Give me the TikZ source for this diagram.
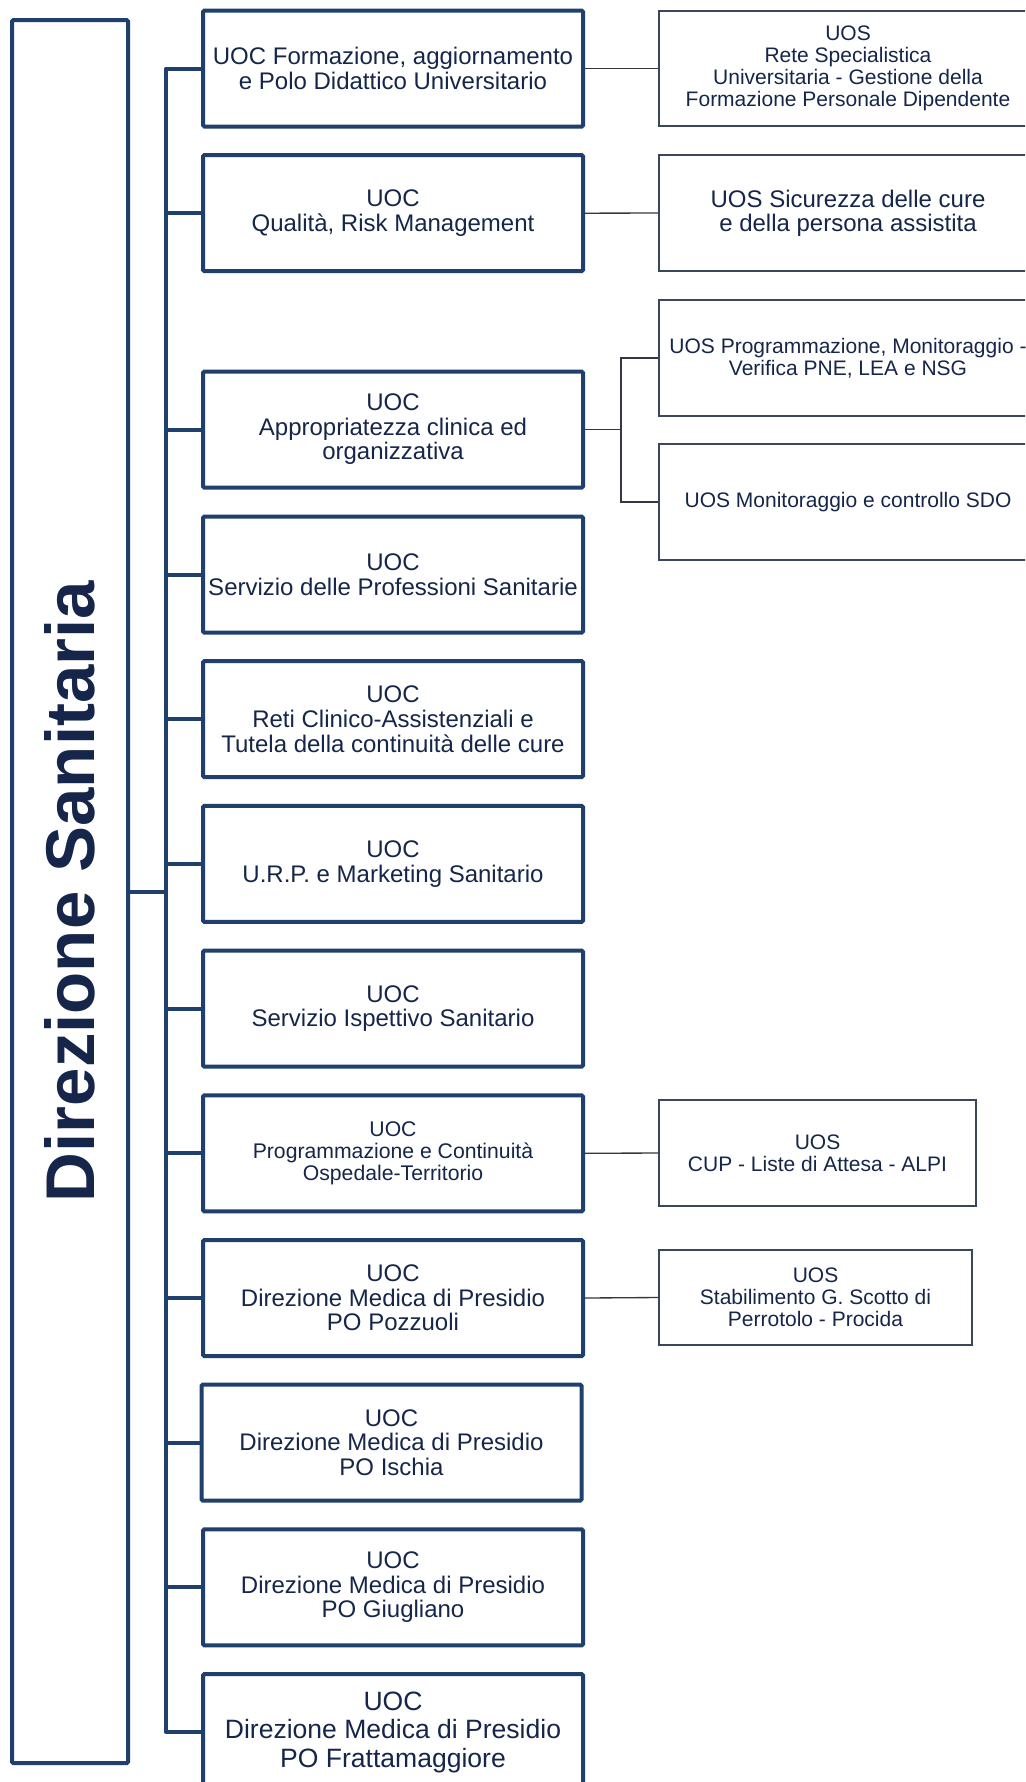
\documentclass[tikz,border=0pt]{standalone}
\usepackage{fontspec}
\setmainfont{Liberation Sans}
\usepackage{graphicx}
\definecolor{boxblue}{HTML}{1F3F6D}
\definecolor{navytext}{HTML}{16264A}
\definecolor{thinline}{HTML}{333840}
\definecolor{uosline}{HTML}{3A4659}
\begin{document}
\begin{tikzpicture}[x=0.75pt,y=-0.75pt,
  uoc/.style={draw=boxblue, line width=3pt, rounded corners=1pt, minimum width=285pt, minimum height=87pt, inner sep=1pt, align=center, text=navytext, font=\fontsize{18}{18.4}\selectfont},
  uos/.style={draw=uosline, line width=1.1pt, inner sep=1pt, align=center, text=navytext, font=\fontsize{15.75}{16.5}\selectfont},
  trunk/.style={draw=boxblue, line width=3pt, line join=round},
  thinl/.style={draw=thinline, line width=1pt}]
\useasboundingbox (0,0) rectangle (1025,1782);
\clip (0,0) rectangle (1025,1782);
\fill[white] (0,0) rectangle (1025,1782);

% main box
\node[draw=boxblue, line width=3pt, rounded corners=1pt, minimum width=87pt, minimum height=1307.25pt, inner sep=0pt, text=navytext, font=\fontsize{51.75}{60}\selectfont\bfseries] (ds) at (70,891.5) {\rotatebox{90}{Direzione Sanitaria}};

% UOC boxes
\node[uoc] (c1) at (393,68.5) {UOC Formazione, aggiornamento\\e Polo Didattico Universitario};
\node[uoc] (c2) at (393,213.2) {UOC\\Qualità, Risk Management};
\node[uoc] (c3) at (393,429.5) {UOC\\Appropriatezza clinica ed\\organizzativa};
\node[uoc] (c4) at (393,574.5) {UOC\\Servizio delle Professioni Sanitarie};
\node[uoc] (c5) at (393,719.2) {UOC\\Reti Clinico-Assistenziali e\\Tutela della continuità delle cure};
\node[uoc] (c6) at (393,863.9) {UOC\\U.R.P. e Marketing Sanitario};
\node[uoc] (c7) at (393,1008.6) {UOC\\Servizio Ispettivo Sanitario};
\node[uoc, font=\fontsize{15.9}{16.2}\selectfont] (c8) at (393,1153.3) {UOC\\Programmazione e Continuità\\Ospedale-Territorio};
\node[uoc] (c9) at (393,1298) {UOC\\Direzione Medica di Presidio\\PO Pozzuoli};
\node[uoc] (c10) at (391.5,1442.7) {UOC\\Direzione Medica di Presidio\\PO Ischia};
\node[uoc] (c11) at (393,1587.4) {UOC\\Direzione Medica di Presidio\\PO Giugliano};
\node[uoc, font=\fontsize{19.9}{21.3}\selectfont] (c12) at (393,1732.1) {UOC\\Direzione Medica di Presidio\\PO Frattamaggiore};

% UOS boxes
\node[uos, minimum width=283.5pt, minimum height=86.25pt] (u1) at (848,68.5) {UOS\\Rete Specialistica\\Universitaria - Gestione della\\Formazione Personale Dipendente};
\node[uos, minimum width=283.5pt, minimum height=87pt, font=\fontsize{18}{18}\selectfont] (u2) at (848,213) {UOS Sicurezza delle cure\\e della persona assistita};
\node[uos, minimum width=283.5pt, minimum height=87pt] (u3) at (848,358) {UOS Programmazione, Monitoraggio -\\Verifica PNE, LEA e NSG};
\node[uos, minimum width=283.5pt, minimum height=87pt] (u4) at (848,502) {UOS Monitoraggio e controllo SDO};
\node[uos, minimum width=237.75pt, minimum height=79.5pt] (u5) at (817.5,1153) {UOS\\CUP - Liste di Attesa - ALPI};
\node[uos, minimum width=234.75pt, minimum height=71.25pt] (u6) at (815.5,1297.5) {UOS\\Stabilimento G. Scotto di\\Perrotolo - Procida};

% trunk
\coordinate (tx) at (166,0);
\draw[trunk] (c1.west) -- (c1.west -| tx) -- (c12.west -| tx) -- (c12.west);
\foreach \n in {c2,c3,c4,c5,c6,c7,c8,c9,c10,c11}{
  \draw[trunk] (\n.west -| tx) -- (\n.west);
}
\draw[trunk] (ds.east) -- (ds.east -| tx);

% thin connectors
\draw[thinl] (c1.east) -- (u1.west);
\draw[thinl] (c2.east) -- (u2.west);
\coordinate (bx) at (621,0);
\draw[thinl] (c3.east) -- (c3.east -| bx);
\draw[thinl] (u3.west) -| (c3.east -| bx) |- (u4.west);
\draw[thinl] (c8.east) -- (u5.west);
\draw[thinl] (c9.east) -- (u6.west);
\end{tikzpicture}
\end{document}
